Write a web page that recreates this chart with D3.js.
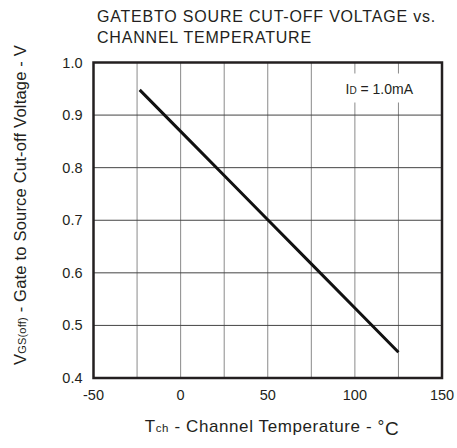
<!DOCTYPE html>
<html>
<head>
<meta charset="utf-8">
<script src="https://cdn.jsdelivr.net/npm/d3@7"></script>
<style>
  body { margin: 0; background: #fff; }
  text { font-family: "Liberation Sans", Arial, sans-serif; fill: #231f20; }
</style>
</head>
<body>
<svg id="mainsvg" width="457" height="448"></svg>
<script>
// curve
const tempC = [-23.5, 0, 25, 50, 75, 100, 125];
const vgsOff = [0.948, 0.869, 0.785, 0.701, 0.617, 0.533, 0.449];

const xTicks = [-50, 0, 50, 100, 150];
const xGrid = [-25, 0, 25, 50, 75, 100, 125];
const yTicks = [0.4, 0.5, 0.6, 0.7, 0.8, 0.9, 1.0];

var svg = d3.select("#mainsvg"),
    margin = {top: 62.5, right: 15, bottom: 70, left: 93.5},
    width = svg.attr("width") - margin.left - margin.right,
    height = svg.attr("height") - margin.top - margin.bottom;

var g = svg.append("g")
    .attr("transform", "translate(" + margin.left + "," + margin.top + ")");

var x = d3.scaleLinear().domain([-50, 150]).range([0, width]);
var y = d3.scaleLinear().domain([0.4, 1.0]).range([height, 0]);

// grid
g.append("g").selectAll("line")
    .data(xGrid)
    .enter().append("line")
    .attr("x1", d => x(d)).attr("x2", d => x(d))
    .attr("y1", 0).attr("y2", height)
    .attr("stroke", "#8a8a8a").attr("stroke-width", 1);

g.append("g").selectAll("line")
    .data(yTicks.slice(1, -1))
    .enter().append("line")
    .attr("x1", 0).attr("x2", width)
    .attr("y1", d => y(d)).attr("y2", d => y(d))
    .attr("stroke", "#444").attr("stroke-width", 1);

// label box covers grid
g.append("rect")
    .attr("x", 246).attr("y", 11)
    .attr("width", 84).attr("height", 29)
    .attr("fill", "#fff");

var lbl = g.append("text")
    .attr("x", 252).attr("y", 31)
    .style("font-size", "14px");
lbl.append("tspan").text("I");
lbl.append("tspan").style("font-size", "10px").text("D");
lbl.append("tspan").text(" = 1.0mA");

// curve
var line = d3.line()
    .x((d, i) => x(tempC[i]))
    .y(d => y(d));

g.append("path")
    .datum(vgsOff)
    .attr("d", line)
    .attr("fill", "none")
    .attr("stroke", "#111")
    .attr("stroke-width", 3);

// frame
g.append("rect")
    .attr("width", width).attr("height", height)
    .attr("fill", "none")
    .attr("stroke", "#231f20")
    .attr("stroke-width", 2.5);

// tick labels
g.append("g").selectAll("text")
    .data(yTicks)
    .enter().append("text")
    .attr("x", -11)
    .attr("y", d => y(d) + 5)
    .attr("text-anchor", "end")
    .style("font-size", "14.5px")
    .text(d => d.toFixed(1));

g.append("g").selectAll("text")
    .data(xTicks)
    .enter().append("text")
    .attr("x", d => x(d))
    .attr("y", height + 22)
    .attr("text-anchor", "middle")
    .style("font-size", "14.5px")
    .text(d => d);

// title
svg.append("text")
    .attr("x", 97).attr("y", 22)
    .style("font-size", "16px")
    .style("letter-spacing", "0.8px")
    .text("GATEBTO SOURE CUT-OFF VOLTAGE vs.");
svg.append("text")
    .attr("x", 97).attr("y", 43)
    .style("font-size", "16px")
    .style("letter-spacing", "0.8px")
    .text("CHANNEL TEMPERATURE");

// x title
var xt = svg.append("text")
    .attr("x", 272).attr("y", 432)
    .attr("text-anchor", "middle")
    .style("font-size", "17px")
    .style("letter-spacing", "0.6px");
xt.append("tspan").text("T");
xt.append("tspan").style("font-size", "11.5px").text("ch");
xt.append("tspan").text(" - Channel Temperature - °");
xt.append("tspan").attr("dy", 3).style("font-size", "19px").text("C");

// y title
var yt = svg.append("text")
    .attr("transform", "translate(26,205) rotate(-90)")
    .attr("text-anchor", "middle")
    .style("font-size", "16.5px")
    .style("letter-spacing", "0.2px");
yt.append("tspan").text("V");
yt.append("tspan").style("font-size", "11px").text("GS(off)");
yt.append("tspan").text(" - Gate to Source Cut-off Voltage - V");
</script>
</body>
</html>
